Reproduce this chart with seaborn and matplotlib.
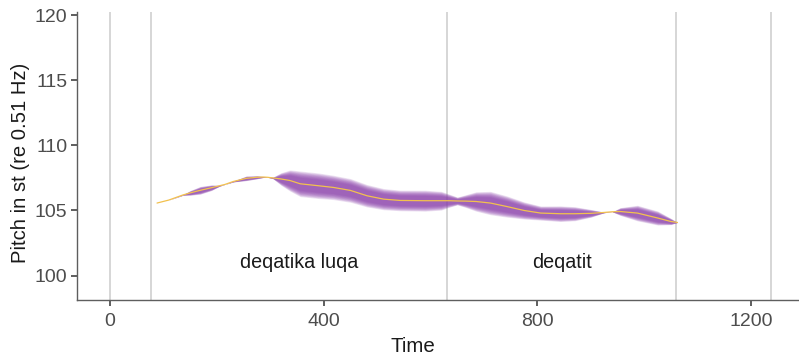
import numpy as np
import pandas as pd
import matplotlib
matplotlib.use("Agg")
import matplotlib.pyplot as plt
import seaborn as sns

# Pitch track (time in ms, pitch in semitones re 0.51 Hz) and ribbon half-width (intensity)
time_ms = [88, 110, 137, 150, 169, 190, 205, 215, 231, 255, 275, 287, 295, 305, 320, 337,
           356, 390, 418, 450, 481, 512, 543, 590, 620, 635, 650, 665, 685, 712, 743, 775,
           806, 843, 870, 900, 925, 940, 955, 987, 1025, 1050, 1062]
pitch_st = [105.57, 105.8, 106.2, 106.35, 106.55, 106.75, 106.9, 107.0, 107.23, 107.47,
            107.55, 107.57, 107.55, 107.5, 107.42, 107.3, 107.05, 106.9, 106.77, 106.54,
            106.13, 105.87, 105.77, 105.75, 105.75, 105.75, 105.73, 105.72, 105.69, 105.57,
            105.3, 105.0, 104.8, 104.75, 104.75, 104.78, 104.85, 104.9, 104.92, 104.8,
            104.42, 104.15, 104.08]
half_width = [0.0, 0.0, 0.02, 0.15, 0.25, 0.18, 0.03, 0.0, 0.03, 0.15, 0.1, 0.03, 0.0, 0.05,
              0.4, 0.68, 0.82, 0.82, 0.78, 0.76, 0.72, 0.68, 0.66, 0.67, 0.6, 0.42, 0.25,
              0.4, 0.62, 0.75, 0.68, 0.55, 0.45, 0.5, 0.45, 0.25, 0.02, 0.0, 0.25, 0.5,
              0.45, 0.2, 0.0]

# Word boundaries and word labels
boundaries = [0, 76, 630, 1060, 1237]
words = ["deqatika luqa", "deqatit"]
word_x = [353, 845]
word_y = 101

df = pd.DataFrame({"Time": time_ms, "Pitch": pitch_st, "hw": half_width})

sns.set_theme(style="white")
plt.rcParams["font.family"] = ["Liberation Sans", "DejaVu Sans"]

fig = plt.figure(figsize=(7.99, 3.57), dpi=100)
ax = fig.add_axes([0.0967, 0.16, 0.9023, 0.8064])

for b in boundaries:
    ax.axvline(b, color="#d3d3d3", lw=1.3, zorder=1)

# Soft-edged intensity ribbon: stacked translucent bands
t = df["Time"].to_numpy()
p = df["Pitch"].to_numpy()
w = df["hw"].to_numpy()
for s in np.linspace(1.2, 0.6, 10):
    ax.fill_between(t, p - w * s, p + w * s, color="#8a3fab", alpha=0.15,
                    lw=0, zorder=2)

sns.lineplot(data=df, x="Time", y="Pitch", ax=ax, color="#f2c14e", lw=0.9,
             zorder=3, sort=False)

for label, xm in zip(words, word_x):
    ax.text(xm, word_y, label, ha="center", va="center", fontsize=14.2,
            color="#1a1a1a")

ax.set_xlim(-61.3, 1288)
ax.set_ylim(98.13, 120.25)
ax.set_xticks([0, 400, 800, 1200])
ax.set_yticks([100, 105, 110, 115, 120])
ax.set_xlabel("Time", fontsize=14.8, color="#1a1a1a")
ax.set_ylabel("Pitch in st (re 0.51 Hz)", fontsize=14.6, color="#1a1a1a")
ax.xaxis.set_label_coords(0.465, -0.13)
ax.yaxis.set_label_coords(-0.066, 0.477)

for side in ["top", "right"]:
    ax.spines[side].set_visible(False)
for side in ["left", "bottom"]:
    ax.spines[side].set_color("#5e5e5e")
    ax.spines[side].set_linewidth(1.0)
ax.tick_params(axis="both", direction="out", length=4.5, width=1.1, color="#333333",
               labelsize=14, labelcolor="#4d4d4d")
ax.tick_params(axis="y", pad=2.5)
ax.tick_params(axis="x", pad=5)
ax.tick_params(axis="both", which="both", bottom=True, left=True)
ax.grid(False)

fig.savefig("out.png", dpi=100)
